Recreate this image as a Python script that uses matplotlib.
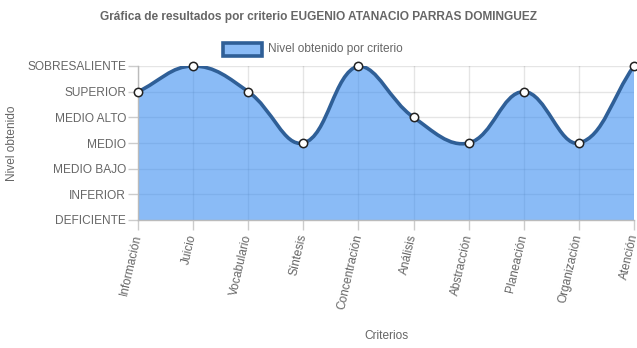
import numpy as np
import matplotlib.pyplot as plt
from matplotlib.path import Path
from matplotlib.patches import PathPatch, Rectangle

criterios = ["Información", "Juicio", "Vocabulario", "Síntesis", "Concentración",
             "Análisis", "Abstracción", "Planeación", "Organización", "Atención"]
niveles = ["DEFICIENTE", "INFERIOR", "MEDIO BAJO", "MEDIO", "MEDIO ALTO",
           "SUPERIOR", "SOBRESALIENTE"]
puntaje = [5, 6, 5, 3, 6, 4, 3, 5, 3, 6]

plt.rcParams['font.family'] = ['Liberation Sans', 'DejaVu Sans']
gris = '#666666'
linea = '#2f5f97'
relleno = (60/255, 142/255, 240/255, 0.6)
fs = 8.6

W, H = 637, 348
fig = plt.figure(figsize=(W/100, H/100), dpi=100)
x0, x1, y0, y1 = 138, 634, 66, 220
ax = fig.add_axes([x0/W, 1-y1/H, (x1-x0)/W, (y1-y0)/H])

n = len(criterios)
ax.set_xlim(0, n-1)
ax.set_ylim(0, len(niveles)-1)

# pixel scale, used for the spline control points (tension 0.4)
sx = (x1-x0)/(n-1)
sy = (y1-y0)/(len(niveles)-1)
px = np.arange(n)*sx
py = np.array(puntaje, dtype=float)*sy
t = 0.4
cp_in = np.zeros((n, 2))
cp_out = np.zeros((n, 2))
for i in range(n):
    prev = np.array([px[max(i-1, 0)], py[max(i-1, 0)]])
    cur = np.array([px[i], py[i]])
    nxt = np.array([px[min(i+1, n-1)], py[min(i+1, n-1)]])
    d01 = np.hypot(*(cur-prev))
    d12 = np.hypot(*(nxt-cur))
    tot = d01 + d12
    s01 = d01/tot if tot else 0
    s12 = d12/tot if tot else 0
    cp_in[i] = cur - t*s01*(nxt-prev)
    cp_out[i] = cur + t*s12*(nxt-prev)
# keep control points inside the chart area
for cp in (cp_in, cp_out):
    cp[:, 0] = np.clip(cp[:, 0], 0, px[-1])
    cp[:, 1] = np.clip(cp[:, 1], 0, (len(niveles)-1)*sy)
cp_in = cp_in/[sx, sy]
cp_out = cp_out/[sx, sy]

verts = [(0, puntaje[0])]
codes = [Path.MOVETO]
for i in range(n-1):
    verts += [tuple(cp_out[i]), tuple(cp_in[i+1]), (i+1, puntaje[i+1])]
    codes += [Path.CURVE4]*3

area_verts = verts + [(n-1, 0), (0, 0), (0, puntaje[0])]
area_codes = codes + [Path.LINETO, Path.LINETO, Path.CLOSEPOLY]
ax.add_patch(PathPatch(Path(area_verts, area_codes), facecolor=relleno,
                       edgecolor='none', zorder=2))
ax.add_patch(PathPatch(Path(verts, codes), facecolor='none', edgecolor=linea,
                       linewidth=2.6, zorder=3, capstyle='round'))
ax.plot(range(n), puntaje, 'o', ms=6, mfc='white', mec='#222222', mew=1.1,
        zorder=4, clip_on=False)

ax.set_xticks(range(n))
ax.set_xticklabels(criterios, rotation=77, ha='right', va='center',
                   rotation_mode='anchor', fontsize=fs, color=gris)
ax.set_yticks(range(len(niveles)))
ax.set_yticklabels(niveles, fontsize=fs, color=gris)
ax.tick_params(axis='both', length=7.5, width=1, color='#cccccc', pad=1)
ax.tick_params(axis='x', pad=3)
ax.grid(True, color='#000000', alpha=0.1, linewidth=1, zorder=1)
ax.set_axisbelow(True)
for s in ['top', 'right']:
    ax.spines[s].set_visible(False)
for s in ['left', 'bottom']:
    ax.spines[s].set_color('#bbbbbb')
    ax.spines[s].set_linewidth(1)

fig.text(318.5/W, 1-17/H, "Gráfica de resultados por criterio EUGENIO ATANACIO PARRAS DOMINGUEZ",
         ha='center', va='center', fontsize=fs, fontweight='bold', color=gris)
fig.text(386/W, 1-336/H, "Criterios", ha='center', va='center', fontsize=fs, color=gris)
fig.text(12/W, 1-143/H, "Nivel obtenido", ha='center', va='center', rotation=90,
         fontsize=fs, color=gris)

# legend
fig.patches.append(Rectangle((223/W, 1-56/H), 39/W, 13/H, transform=fig.transFigure,
                             facecolor=relleno, edgecolor=linea, linewidth=2.6))
fig.text(268/W, 1-49/H, "Nivel obtenido por criterio", ha='left', va='center',
         fontsize=fs, color=gris)

fig.savefig('out.png', dpi=100)
